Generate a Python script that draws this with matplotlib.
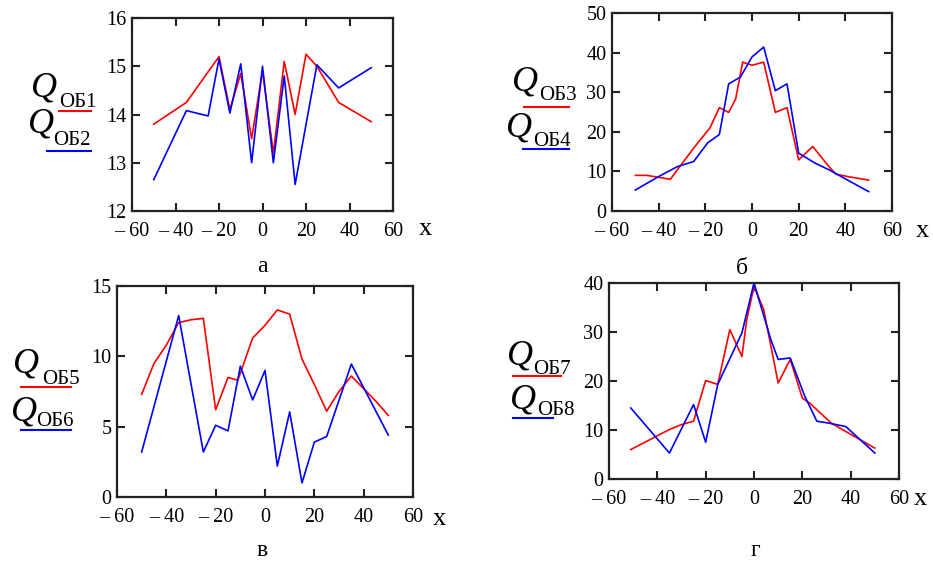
import matplotlib
matplotlib.use("Agg")
import matplotlib.pyplot as plt
from matplotlib.lines import Line2D

# ---------------- data ----------------
x_ticks = [-60, -40, -20, 0, 20, 40, 60]
x_tick_labels = ["\u2013 60", "\u2013 40", "\u2013 20", "0", "20", "40", "60"]

# panel а
x_ob1 = [-50, -35, -20, -15, -10, -5, 0, 5, 10, 15, 20, 25, 35, 50]
q_ob1 = [13.8, 14.25, 15.2, 14.1, 14.85, 13.5, 14.9, 13.2, 15.1, 14.0, 15.25, 15.0, 14.25, 13.85]
x_ob2 = [-50, -35, -25, -20, -15, -10, -5, 0, 5, 10, 15, 25, 35, 50]
q_ob2 = [12.65, 14.08, 13.97, 15.15, 14.03, 15.05, 13.0, 15.0, 13.0, 14.8, 12.55, 15.03, 14.55, 14.97]
y_ticks_a = [12, 13, 14, 15, 16]

# panel б
x_ob3 = [-50, -45, -40, -35, -32, -28, -25, -18, -14, -10, -7, -4, 0, 5, 10, 15, 20, 26, 33, 36, 41, 50]
q_ob3 = [9.0, 9.0, 8.5, 8.0, 10.4, 13.5, 15.9, 21.0, 26.1, 24.9, 28.3, 37.6, 36.8, 37.6, 24.9, 26.1, 12.9, 16.3, 11.2, 9.3, 8.7, 7.8]
x_ob4 = [-50, -40, -32, -25, -19, -14, -10, -5, 0, 5, 10, 15, 20, 27, 33, 41, 50]
q_ob4 = [5.3, 8.7, 11.2, 12.5, 17.2, 19.3, 32.1, 33.8, 38.9, 41.4, 30.4, 32.1, 14.6, 12.1, 10.4, 7.8, 4.9]
y_ticks_b = [0, 10, 20, 30, 40, 50]

# panel в
x_ob5 = [-50, -45, -40, -35, -30, -25, -20, -15, -11, -5, 0, 5, 10, 15, 20, 25, 30, 35, 40, 45, 50]
q_ob5 = [7.3, 9.5, 10.8, 12.4, 12.6, 12.7, 6.2, 8.5, 8.3, 11.3, 12.2, 13.3, 13.0, 9.8, 8.0, 6.1, 7.5, 8.6, 7.7, 6.8, 5.8]
x_ob6 = [-50, -35, -25, -20, -15, -10, -5, 0, 5, 10, 15, 20, 25, 35, 50]
q_ob6 = [3.2, 12.9, 3.2, 5.1, 4.7, 9.3, 6.9, 9.0, 2.2, 6.05, 1.0, 3.9, 4.3, 9.45, 4.4]
y_ticks_c = [0, 5, 10, 15]

# panel г
x_ob7 = [-51, -35, -30, -25, -20, -15, -10, -5, -3, 0, 4, 10, 15, 20, 23, 32, 39, 50]
q_ob7 = [6.0, 10.1, 11.1, 11.8, 20.1, 19.3, 30.5, 25.0, 32.5, 39.3, 34.6, 19.6, 24.4, 16.5, 15.5, 11.4, 9.4, 6.3]
x_ob8 = [-51, -35, -25, -20, -15, -5, 0, 7, 10, 15, 21, 26, 31, 38, 50]
q_ob8 = [14.5, 5.3, 15.2, 7.5, 19.3, 29.8, 40.0, 28.4, 24.4, 24.7, 16.9, 11.8, 11.4, 10.7, 5.3]
y_ticks_d = [0, 10, 20, 30, 40]

panel_letters = ["\u0430", "\u0431", "\u0432", "\u0433"]
series_names = ["\u041e\u04111", "\u041e\u04112", "\u041e\u04113", "\u041e\u04114",
                "\u041e\u04115", "\u041e\u04116", "\u041e\u04117", "\u041e\u04118"]

# ---------------- figure ----------------
W, H = 933, 564
fig = plt.figure(figsize=(W / 100, H / 100), dpi=100)
FONT = "Liberation Serif"
RED = "#ff0000"
BLUE = "#0000ff"
TICK_FS = 14.5


def fx(px):
    return px / W


def fy(py):
    return 1 - py / H


def make_axes(left, right, top, bottom, yticks):
    ax = fig.add_axes([fx(left), fy(bottom), fx(right - left), (bottom - top) / H])
    ax.set_xlim(-60, 60)
    ax.set_ylim(yticks[0], yticks[-1])
    ax.set_xticks(x_ticks)
    ax.set_xticklabels(x_tick_labels, fontfamily=FONT, fontsize=TICK_FS)
    ax.set_yticks(yticks)
    ax.set_yticklabels([str(v) for v in yticks], fontfamily=FONT, fontsize=TICK_FS)
    ax.tick_params(direction="in", length=6, width=1.5, top=True, right=True,
                   colors="#222222", labelcolor="black")
    ax.tick_params(axis="x", pad=8)
    ax.tick_params(axis="y", pad=4)
    for s in ax.spines.values():
        s.set_linewidth(1.6)
        s.set_color("#222222")
    return ax


def legend(qx, qy, sx, sy, lx0, lx1, ly, name, color):
    fig.text(fx(qx), fy(qy), "Q", fontfamily=FONT, fontstyle="italic",
             fontsize=26, va="baseline", ha="left")
    fig.text(fx(sx), fy(sy), name, fontfamily=FONT, fontsize=15,
             va="baseline", ha="left")
    fig.add_artist(Line2D([fx(lx0), fx(lx1)], [fy(ly), fy(ly)], color=color,
                          lw=1.5, transform=fig.transFigure))


# panel а
ax = make_axes(132, 393, 18, 211, y_ticks_a)
ax.plot(x_ob1, q_ob1, color=RED, lw=1.2)
ax.plot(x_ob2, q_ob2, color=BLUE, lw=1.2)
fig.text(fx(419), fy(235), "x", fontfamily=FONT, fontsize=19, va="baseline")
fig.text(fx(262), fy(272), panel_letters[0], fontfamily=FONT, fontsize=17,
         ha="center", va="baseline")
legend(31, 97, 59, 107, 59, 91, 111, series_names[0], RED)
legend(28, 133, 53, 145, 47, 91, 151, series_names[1], BLUE)

# panel б
ax = make_axes(612, 892, 13, 211, y_ticks_b)
ax.plot(x_ob3, q_ob3, color=RED, lw=1.2)
ax.plot(x_ob4, q_ob4, color=BLUE, lw=1.2)
fig.text(fx(916), fy(237), "x", fontfamily=FONT, fontsize=19, va="baseline")
fig.text(fx(742), fy(274), panel_letters[1], fontfamily=FONT, fontsize=17,
         ha="center", va="baseline")
legend(512, 90, 539, 100, 524, 569, 107, series_names[2], RED)
legend(506, 137, 533, 146, 523, 569, 149, series_names[3], BLUE)

# panel в
ax = make_axes(117, 413, 286, 497, y_ticks_c)
ax.plot(x_ob5, q_ob5, color=RED, lw=1.2)
ax.plot(x_ob6, q_ob6, color=BLUE, lw=1.2)
fig.text(fx(433), fy(525), "x", fontfamily=FONT, fontsize=19, va="baseline")
fig.text(fx(262), fy(556), panel_letters[2], fontfamily=FONT, fontsize=17,
         ha="center", va="baseline")
legend(13, 372, 42, 384, 21, 71, 387, series_names[4], RED)
legend(11, 421, 36, 426, 21, 71, 430, series_names[5], BLUE)

# panel г
ax = make_axes(609, 899, 283, 479, y_ticks_d)
ax.plot(x_ob7, q_ob7, color=RED, lw=1.2)
ax.plot(x_ob8, q_ob8, color=BLUE, lw=1.2)
fig.text(fx(914), fy(505), "x", fontfamily=FONT, fontsize=19, va="baseline")
fig.text(fx(755), fy(556), panel_letters[3], fontfamily=FONT, fontsize=17,
         ha="center", va="baseline")
legend(507, 365, 533, 374, 513, 561, 376, series_names[6], RED)
legend(510, 409, 537, 415, 513, 553, 418, series_names[7], BLUE)

fig.savefig("out.png", dpi=100)
